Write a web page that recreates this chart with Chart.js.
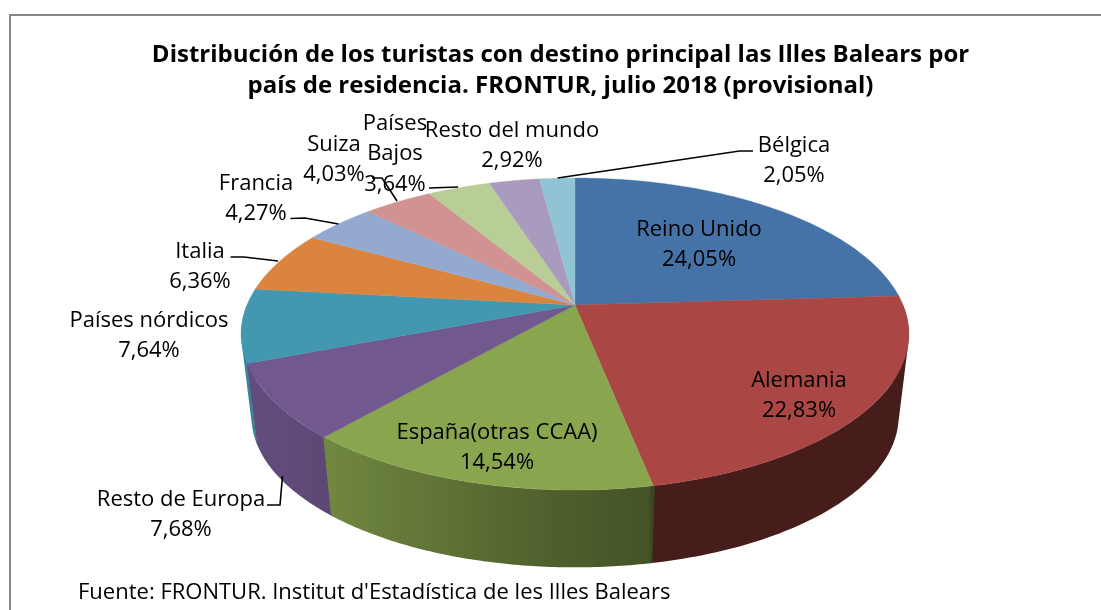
<!DOCTYPE html>
<html lang="es">
<head>
<meta charset="utf-8">
<style>
html,body{margin:0;padding:0;background:#fff;overflow:hidden}
canvas{display:block}
</style>
<script src="https://cdn.jsdelivr.net/npm/chart.js@4/dist/chart.umd.min.js"></script>
</head>
<body>
<canvas id="c" width="1101" height="610"></canvas>
<script>
const categories = ["Reino Unido","Alemania","España(otras CCAA)","Resto de Europa","Países nórdicos","Italia","Francia","Suiza","Países Bajos","Resto del mundo","Bélgica"];
const shares = [24.05,22.83,14.54,7.68,7.64,6.36,4.27,4.03,3.64,2.92,2.05];
const shareText = ["24,05%","22,83%","14,54%","7,68%","7,64%","6,36%","4,27%","4,03%","3,64%","2,92%","2,05%"];
const colors = ["#4572A7","#AA4643","#89A54E","#71588F","#4198AF","#DB843D","#93A9CF","#D19392","#B9CD96","#A99BBD","#92C3D5"];
const titleLines = ["Distribución de los turistas con destino principal las Illes Balears por","país de residencia. FRONTUR, julio 2018 (provisional)"];
const source = "Fuente: FRONTUR. Institut d'Estadística de les Illes Balears";

/* label layout: centre x, first-line centre y, line texts */
const labelBoxes = [
  [699,229.5,["Reino Unido"]],[799,380.5,["Alemania"]],[497,432.5,["España(otras CCAA)"]],
  [181,499.5,["Resto de Europa"]],[149,320.5,["Países nórdicos"]],[200,251.5,["Italia"]],
  [256,183.5,["Francia"]],[334,144.5,["Suiza"]],[395,123.5,["Países","Bajos"]],
  [512,130.5,["Resto del mundo"]],[794,145.5,["Bélgica"]]
];
const leaders = [
  [[290.5,218.5],[305,218],[338.5,224]],
  [[230.5,257],[244,257],[278,261]],
  [[372,178],[382,178],[397,201]],
  [[429,188],[458,187]],
  [[753,151],[739.5,151],[557.7,178]],
  [[267,505],[280,505],[282.5,476]]
];
/* perspective of the tilted disc */
const view = {cx:575, p:0.186, top:{y:305,a:150.6,b:328}, bottom:{y:388,a:146,b:318}};
const shadeStops = [[0,.88],[.13,.82],[.46,.58],[.61,.5],[.615,.42],[1,.41]];

function project(plane,t){
  const u=Math.cos(t), v=Math.sin(t), d=1-view.p*v;
  return [view.cx+plane.b*u/d, plane.y+plane.a*v/d];
}
function shade(hex,f){
  const n=parseInt(hex.slice(1),16);
  return `rgb(${Math.round((n>>16&255)*f)},${Math.round((n>>8&255)*f)},${Math.round((n&255)*f)})`;
}
function area(q){
  let s=0;
  q.forEach((p,i)=>{const r=q[(i+1)%q.length];s+=p[0]*r[1]-r[0]*p[1];});
  return s;
}
const disc3d = {
  id:'disc3d',
  beforeDatasetDraw(chart,args){
    const ctx=chart.ctx, arcs=args.meta.data;
    const order=arcs.map((a,i)=>i).sort((i,j)=>
      Math.sin((arcs[i].startAngle+arcs[i].endAngle)/2)-Math.sin((arcs[j].startAngle+arcs[j].endAngle)/2));
    const N=80, overlap=0.004;
    ctx.save();
    for(const i of order){
      const a=arcs[i];
      const g=ctx.createLinearGradient(243,0,908,0);
      shadeStops.forEach(s=>g.addColorStop(s[0],shade(colors[i],s[1])));
      const start=a.startAngle-overlap, span=a.endAngle-a.startAngle+2*overlap;
      ctx.beginPath();
      for(let k=0;k<N;k++){
        const t0=start+span*k/N,t1=start+span*(k+1)/N;
        if(Math.sin(t0)<0&&Math.sin(t1)<0)continue;
        let q=[project(view.top,t0),project(view.top,t1),project(view.bottom,t1),project(view.bottom,t0)];
        if(area(q)<0)q=q.reverse();
        ctx.moveTo(q[0][0],q[0][1]);
        for(let m=1;m<4;m++)ctx.lineTo(q[m][0],q[m][1]);
        ctx.closePath();
      }
      ctx.fillStyle=g;ctx.fill('nonzero');
    }
    arcs.forEach((a,i)=>{
      ctx.beginPath();
      ctx.moveTo(view.cx,view.top.y);
      for(let k=0;k<=N;k++){const p=project(view.top,a.startAngle+(a.endAngle-a.startAngle)*k/N);ctx.lineTo(p[0],p[1]);}
      ctx.closePath();
      ctx.fillStyle=colors[i];ctx.strokeStyle=colors[i];ctx.lineWidth=.4;
      ctx.fill();ctx.stroke();
    });
    ctx.restore();
    return false;
  },
  afterDraw(chart){
    const ctx=chart.ctx;
    ctx.save();
    ctx.strokeStyle='#000';ctx.lineWidth=1.6;
    leaders.forEach(l=>{ctx.beginPath();l.forEach((p,i)=>i?ctx.lineTo(p[0],p[1]):ctx.moveTo(p[0],p[1]));ctx.stroke();});
    ctx.font='22px "Open Sans"';ctx.fillStyle='#000';ctx.textAlign='center';ctx.textBaseline='middle';
    labelBoxes.forEach((b,i)=>{
      const lines=b[2].concat(shareText[i]);
      lines.forEach((t,k)=>ctx.fillText(t,b[0],b[1]+k*30.5));
    });
    ctx.textAlign='left';
    ctx.fillText(source,78,592.5);
    ctx.restore();
  },
  beforeDraw(chart){
    const ctx=chart.ctx;
    ctx.save();
    ctx.fillStyle='#fff';ctx.fillRect(0,0,1101,610);
    ctx.strokeStyle='#868686';ctx.lineWidth=2;
    ctx.beginPath();ctx.moveTo(10,610);ctx.lineTo(10,15);ctx.lineTo(1101,15);ctx.stroke();
    ctx.restore();
  }
};
new Chart(document.getElementById('c'),{
  type:'pie',
  data:{labels:categories,datasets:[{data:shares,backgroundColor:colors,borderWidth:0}]},
  plugins:[disc3d],
  options:{
    responsive:false,animation:false,events:[],
    layout:{padding:{left:20}},
    plugins:{
      legend:{display:false},tooltip:{enabled:false},
      title:{display:true,text:titleLines,color:'#000',align:'center',
        font:{family:'"Open Sans"',size:24,weight:'bold',lineHeight:1.32},padding:{top:39,bottom:0}}
    }
  }
});
</script>
</body>
</html>
